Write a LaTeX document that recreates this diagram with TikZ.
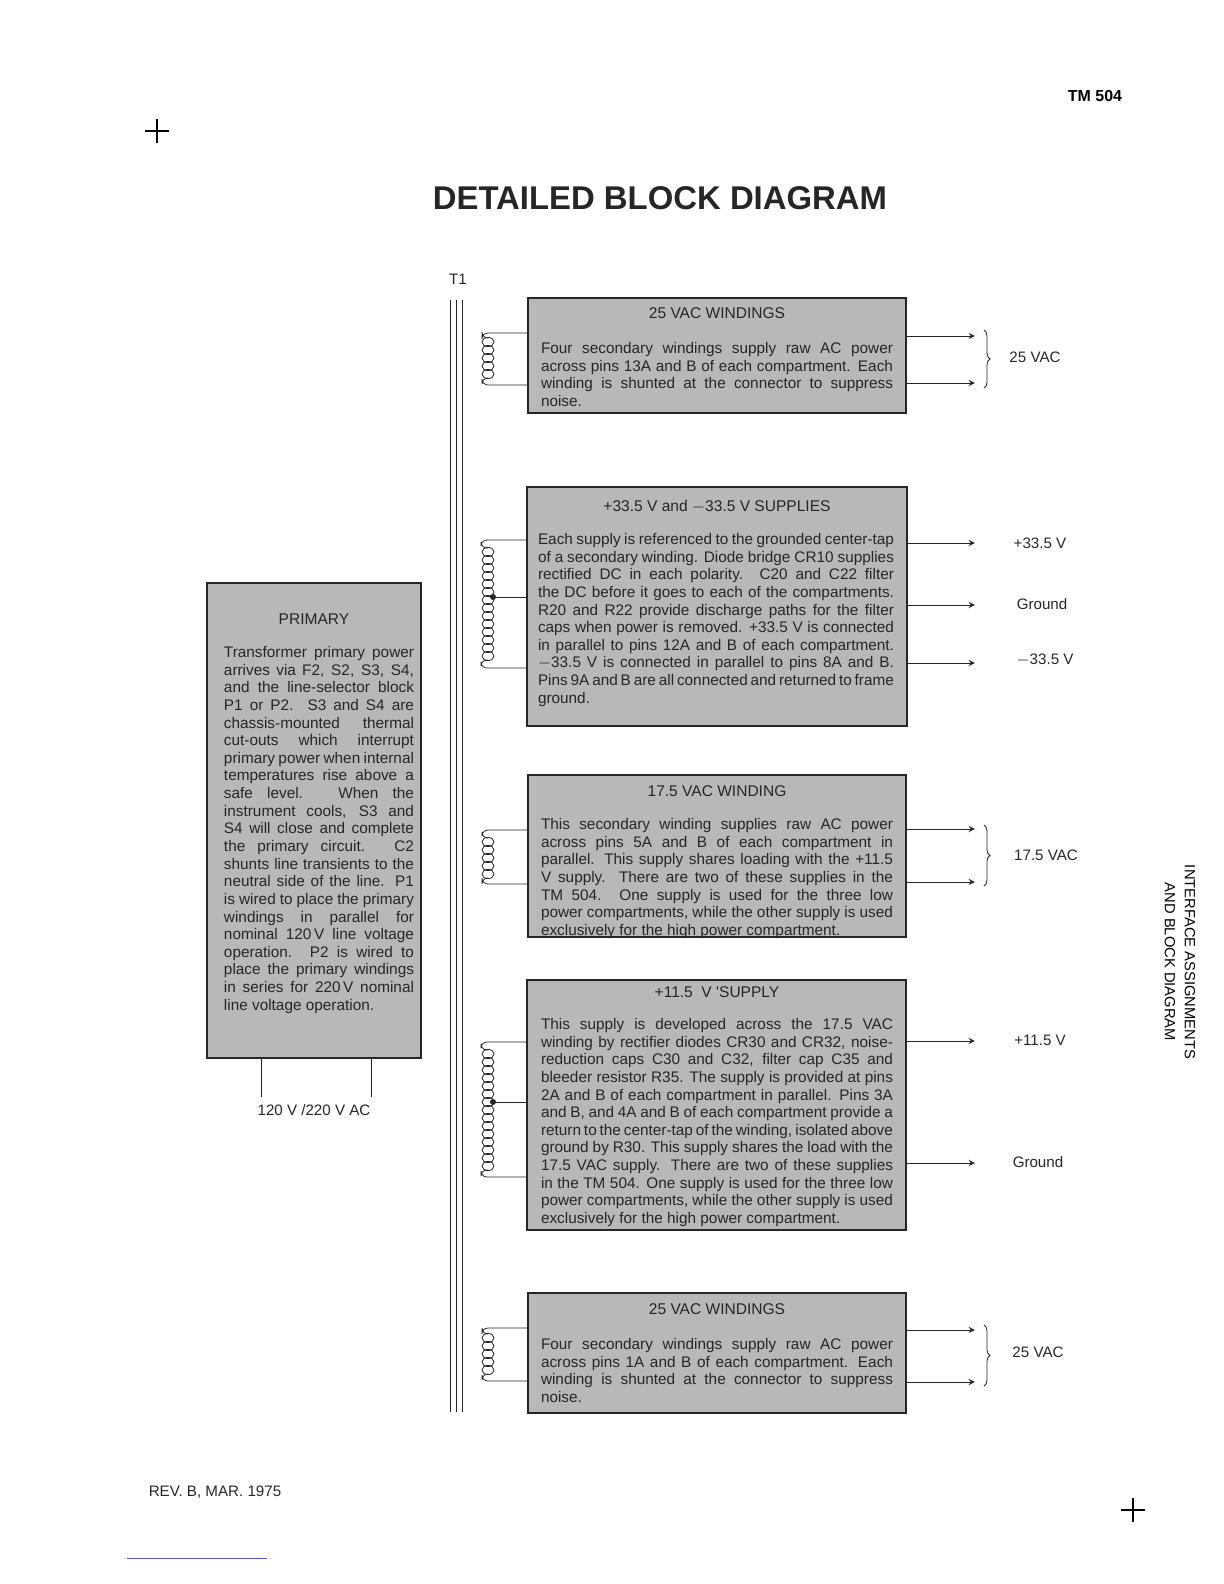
\documentclass[tikz,border=0pt]{standalone}
\usepackage{fontspec}
\setmainfont{Liberation Sans}
\usetikzlibrary{positioning,calc,decorations.pathreplacing}
\colorlet{colorBOX}{black!28}
\colorlet{colorINK}{black!85}
\newcommand{\bodyfont}{\fontsize{7.7}{8.85}\selectfont\hyphenpenalty=10000 \tolerance=9999 \emergencystretch=20pt\relax}
\tikzset{
   every path/.style={>=stealth},
   blk/.style={draw=colorINK,thick,fill=colorBOX,inner sep=0pt},
   ttl/.style={font=\fontsize{7.8}{9}\selectfont,colorINK},
   body/.style={font=\bodyfont,colorINK,align=justify,inner sep=0pt},
   feed/.style={->,color=colorINK,shorten >=-0.5mm},
   lead/.style={color=colorINK,rounded corners=3pt},
   lab/.style={font=\fontsize{7.6}{9}\selectfont,colorINK},
   brc/.style={decorate,decoration={brace,amplitude=3pt},color=colorINK},
}
\newcommand{\coil}[3]{% x, y top, turns
  \foreach \k in {1,...,#3}
    \draw[colorINK] (#1,{#2+(\k-0.5)*8}) ellipse (6 and 4.6);}
\begin{document}
\begin{tikzpicture}[x=0.5bp,y=-0.5bp]
  \useasboundingbox (0,0) rectangle (1224,1584);
  % page furniture
  \node[font=\bfseries\fontsize{8}{9}\selectfont] (tm) at (1095,96) {TM 504};
  \draw[thick] (145,131) -- (169,131) (157,119) -- (157,143);
  \draw[thick] (1121,1510) -- (1145,1510) (1133,1498) -- (1133,1522);
  \node[font=\bfseries\fontsize{16.5}{20}\selectfont,colorINK] (title) at (660,198) {DETAILED BLOCK DIAGRAM};
  \node[font=\fontsize{7.4}{9}\selectfont,rotate=-90] (side1) at (1190,962) {INTERFACE ASSIGNMENTS};
  \node[font=\fontsize{7.4}{9}\selectfont,rotate=-90] (side2) at (1170,962) {AND BLOCK DIAGRAM};
  \node[lab] (rev) at (215,1492) {REV. B, MAR. 1975};
  \draw[blue!70] (127,1558) -- (267,1558);
  % transformer core
  \node[lab] (t1) at (458,279) {T1};
  \foreach \cx in {450,456,462}
    \draw[colorINK] (\cx,300) -- (\cx,1412);
  % primary
  \node[blk,minimum width=107bp,minimum height=237.5bp] (prim) at (314,820.5) {};
  \node[ttl] (primt) at (314,619) {PRIMARY};
  \node[body,text width=95bp,anchor=north] (primb) at (319,646) {Transformer primary power arrives via F2, S2, S3, S4, and the line-selector block P1 or P2. S3 and S4 are chassis-mounted thermal cut-outs which interrupt primary power when internal temperatures rise above a safe level. When the instrument cools, S3 and S4 will close and complete the primary circuit. C2 shunts line transients to the neutral side of the line. P1 is wired to place the primary windings in parallel for nominal 120\,V line voltage operation. P2 is wired to place the primary windings in series for 220\,V nominal line voltage operation.};
  \draw[colorINK] (261,1058) -- (261,1097) (371,1058) -- (371,1097);
  \node[lab] (line) at (314,1110) {120 V /220 V AC};
  % 25 VAC windings (top)
  \node[blk,minimum width=189bp,minimum height=57.5bp] (wa) at (717,355.5) {};
  \node[ttl] (wat) at (717,313) {25 VAC WINDINGS};
  \node[body,text width=176bp,anchor=north] (wab) at (717,342) {Four secondary windings supply raw AC power across pins 13A and B of each compartment. Each winding is shunted at the connector to suppress noise.};
  \coil{488}{338}{5}
  \draw[lead] (488,338) -- (482,338) -- (482,333) -- (wa.west |- 0,333);
  \draw[lead] (488,378) -- (482,378) -- (482,385) -- (wa.west |- 0,385);
  \coordinate (wa1) at (972,336); \coordinate (wa2) at (972,383);
  \draw[feed] (wa.east |- wa1) -- (wa1);
  \draw[feed] (wa.east |- wa2) -- (wa2);
  \draw[brc] (984,330) -- (984,388);
  \node[lab] (waL) at (1035,357) {25 VAC};
  % +/-33.5 V supplies
  \node[blk,minimum width=190bp,minimum height=119.5bp] (sb) at (717,606.5) {};
  \node[ttl] (sbt) at (717,507) {+33.5 V and $-$33.5 V SUPPLIES};
  \node[body,text width=178bp,anchor=north] (sbb) at (716,533) {Each supply is referenced to the grounded center-tap of a secondary winding. Diode bridge CR10 supplies rectified DC in each polarity. C20 and C22 filter the DC before it goes to each of the compartments. R20 and R22 provide discharge paths for the filter caps when power is removed. +33.5 V is connected in parallel to pins 12A and B of each compartment. $-$33.5 V is connected in parallel to pins 8A and B. Pins 9A and B are all connected and returned to frame ground.};
  \coil{488}{548}{14}
  \draw[lead] (488,548) -- (481,548) -- (481,540) -- (sb.west |- 0,540);
  \draw[lead] (488,660) -- (481,660) -- (481,668) -- (sb.west |- 0,668);
  \fill[colorINK] (493,597) circle (3);
  \draw[colorINK] (493,597) -- (sb.west |- 0,597);
  \coordinate (sb1) at (972,543); \coordinate (sb2) at (972,605); \coordinate (sb3) at (972,663);
  \foreach \e in {sb1,sb2,sb3}
    \draw[feed] (sb.east |- \e) -- (\e);
  \node[lab] (sbL1) at (1040,543) {+33.5 V};
  \node[lab] (sbL2) at (1042,604) {Ground};
  \node[lab] (sbL3) at (1045,660) {$-$33.5 V};
  % 17.5 VAC winding
  \node[blk,minimum width=189bp,minimum height=81bp] (wc) at (717,856) {};
  \node[ttl] (wct) at (717,791) {17.5 VAC WINDING};
  \node[body,text width=176bp,anchor=north] (wcb) at (717,818) {This secondary winding supplies raw AC power across pins 5A and B of each compartment in parallel. This supply shares loading with the +11.5 V supply. There are two of these supplies in the TM 504. One supply is used for the three low power compartments, while the other supply is used exclusively for the high power compartment.};
  \coil{488}{838}{5}
  \draw[lead] (488,838) -- (482,838) -- (482,830) -- (wc.west |- 0,830);
  \draw[lead] (488,878) -- (482,878) -- (482,884) -- (wc.west |- 0,884);
  \coordinate (wc1) at (972,829); \coordinate (wc2) at (972,882);
  \draw[feed] (wc.east |- wc1) -- (wc1);
  \draw[feed] (wc.east |- wc2) -- (wc2);
  \draw[brc] (984,825) -- (984,886);
  \node[lab] (wcL) at (1046,855) {17.5 VAC};
  % +11.5 V supply
  \node[blk,minimum width=189.5bp,minimum height=125bp] (sd) at (716.5,1105) {};
  \node[ttl] (sdt) at (717,992) {+11.5\ \ V \textquotesingle SUPPLY};
  \node[body,text width=176bp,anchor=north] (sdb) at (717,1018) {This supply is developed across the 17.5 VAC winding by rectifier diodes CR30 and CR32, noise-reduction caps C30 and C32, filter cap C35 and bleeder resistor R35. The supply is provided at pins 2A and B of each compartment in parallel. Pins 3A and B, and 4A and B of each compartment provide a return to the center-tap of the winding, isolated above ground by R30. This supply shares the load with the 17.5 VAC supply. There are two of these supplies in the TM 504. One supply is used for the three low power compartments, while the other supply is used exclusively for the high power compartment.};
  \coil{488}{1050}{15}
  \draw[lead] (488,1050) -- (481,1050) -- (481,1042) -- (sd.west |- 0,1042);
  \draw[lead] (488,1170) -- (481,1170) -- (481,1177) -- (sd.west |- 0,1177);
  \fill[colorINK] (493,1102) circle (3);
  \draw[colorINK] (493,1102) -- (sd.west |- 0,1102);
  \coordinate (sd1) at (972,1041); \coordinate (sd2) at (972,1163);
  \draw[feed] (sd.east |- sd1) -- (sd1);
  \draw[feed] (sd.east |- sd2) -- (sd2);
  \node[lab] (sdL1) at (1040,1040) {+11.5 V};
  \node[lab] (sdL2) at (1038,1162) {Ground};
  % 25 VAC windings (bottom)
  \node[blk,minimum width=189bp,minimum height=60bp] (we) at (717,1353) {};
  \node[ttl] (wet) at (717,1309) {25 VAC WINDINGS};
  \node[body,text width=176bp,anchor=north] (web) at (717,1338) {Four secondary windings supply raw AC power across pins 1A and B of each compartment. Each winding is shunted at the connector to suppress noise.};
  \coil{488}{1334}{5}
  \draw[lead] (488,1334) -- (482,1334) -- (482,1328) -- (we.west |- 0,1328);
  \draw[lead] (488,1374) -- (482,1374) -- (482,1381) -- (we.west |- 0,1381);
  \coordinate (we1) at (972,1330); \coordinate (we2) at (972,1382);
  \draw[feed] (we.east |- we1) -- (we1);
  \draw[feed] (we.east |- we2) -- (we2);
  \draw[brc] (984,1325) -- (984,1386);
  \node[lab] (weL) at (1038,1352) {25 VAC};
\end{tikzpicture}
\end{document}
